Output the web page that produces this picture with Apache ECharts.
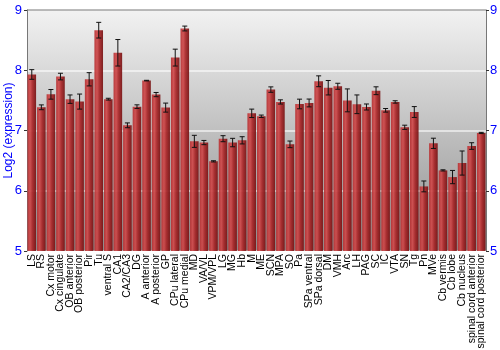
<!DOCTYPE html>
<html><head><meta charset="utf-8">
<script src="https://cdn.jsdelivr.net/npm/echarts@6/dist/echarts.min.js"></script>
<style>html,body{margin:0;padding:0;background:#fff}#c{width:500px;height:350px}</style>
</head><body><div id="c"></div>
<script>
const categories = ["LS","RS","Cx motor","Cx cingulate","OB anterior","OB posterior","Pir","Tu","ventral S","CA1","CA2/CA3","DG","A anterior","A posterior","GP","CPu lateral","CPu medial","MD","VA/VL","VPM/VPL","LG","MG","Hb","M","ME","SCN","MPA","SO","Pa","SPa ventral","SPa dorsal","DM","VMH","Arc","LH","PAG","SC","IC","VTA","SN","Tg","Pn","MVe","Cb vermis","Cb lobe","Cb nucleus","spinal cord anterior","spinal cord posterior"];
const values = [7.93,7.385,7.60,7.895,7.52,7.48,7.85,8.665,7.52,8.29,7.086,7.396,7.828,7.596,7.38,8.21,8.693,6.82,6.80,6.488,6.864,6.80,6.837,7.285,7.236,7.679,7.474,6.77,7.44,7.457,7.817,7.71,7.734,7.50,7.435,7.39,7.66,7.335,7.474,7.053,7.307,6.072,6.787,6.338,6.227,6.46,6.742,6.959];
const errors = [0.08,0.04,0.08,0.055,0.07,0.125,0.11,0.13,0.015,0.22,0.04,0.03,0.005,0.035,0.075,0.14,0.04,0.1,0.035,0.01,0.05,0.07,0.06,0.07,0.02,0.045,0.035,0.055,0.08,0.065,0.09,0.12,0.05,0.19,0.155,0.05,0.065,0.03,0.02,0.035,0.09,0.09,0.085,0.01,0.11,0.2,0.055,0.01];
const yTicks = [5,6,7,8,9];

const chart = echarts.init(document.getElementById('c'), null, {renderer:'canvas'});
const barColor = new echarts.graphic.LinearGradient(0,0,1,0,[
  {offset:0,color:'#b52f31'},{offset:0.3,color:'#cf4a4b'},{offset:0.6,color:'#a82628'},{offset:1,color:'#761213'}]);
const errData = values.map((v,i)=>[i, v-errors[i], v+errors[i]]);
chart.setOption({
  animation:false,
  grid:{left:27,right:14,top:10,bottom:99,show:true,borderWidth:0,containLabel:false,outerBoundsMode:'none',
    backgroundColor:new echarts.graphic.LinearGradient(0,0,0,1,[{offset:0,color:'#f2f2f2'},{offset:1,color:'#8e8e8e'}])},
  xAxis:{type:'category',data:categories,
    axisLine:{show:false},axisTick:{show:false},
    axisLabel:{rotate:90,interval:0,color:'#000',fontSize:10.5,fontFamily:'Liberation Sans',margin:3}},
  yAxis:[{type:'value',min:yTicks[0],max:yTicks[yTicks.length-1],interval:1,
    name:'Log2 (expression)',nameLocation:'middle',nameGap:12,nameMoveOverlap:false,
    nameTextStyle:{color:'#0000ff',fontSize:12,fontFamily:'Liberation Sans'},
    axisLine:{show:true,lineStyle:{color:'#777'}},axisTick:{show:true,length:3,lineStyle:{color:'#333'}},
    axisLabel:{color:'#0000ff',fontSize:13,fontFamily:'Liberation Sans',margin:5},
    splitLine:{show:true,lineStyle:{color:'rgba(255,255,255,0.75)',width:1.5}}},
   {type:'value',min:yTicks[0],max:yTicks[yTicks.length-1],interval:1,position:'right',
    axisLine:{show:true,lineStyle:{color:'#777'}},axisTick:{show:true,length:3,lineStyle:{color:'#333'}},
    axisLabel:{color:'#0000ff',fontSize:13,fontFamily:'Liberation Sans',margin:4},
    splitLine:{show:false}}],
  graphic:[{type:'line',shape:{x1:27,y1:10,x2:486,y2:10},style:{stroke:'#777',lineWidth:1},z:10}],
  series:[
    {type:'bar',data:values,barCategoryGap:'10%',itemStyle:{color:barColor,opacity:0.93},z:3},
    {type:'custom',data:errData,z:5,
     renderItem:function(params,api){
       const lo=api.coord([api.value(0),api.value(1)]);
       const hi=api.coord([api.value(0),api.value(2)]);
       const cx=lo[0], w=2.5;
       const st={stroke:'#111',lineWidth:1};
       return {type:'group',children:[
         {type:'line',shape:{x1:cx,y1:lo[1],x2:cx,y2:hi[1]},style:st},
         {type:'line',shape:{x1:cx-w,y1:lo[1],x2:cx+w,y2:lo[1]},style:st},
         {type:'line',shape:{x1:cx-w,y1:hi[1],x2:cx+w,y2:hi[1]},style:st}]};
     }}
  ]
});
</script></body></html>
